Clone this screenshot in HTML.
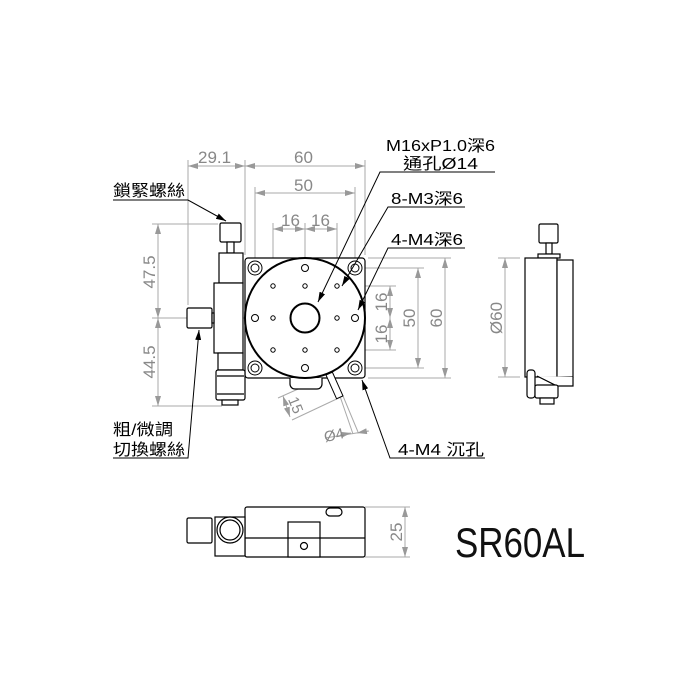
<!DOCTYPE html>
<html><head><meta charset="utf-8"><style>
body{margin:0;background:#fff}
svg{display:block}
.t{font-family:"Liberation Sans","Noto Sans CJK TC",sans-serif;fill:#000}
.g{font-family:"Liberation Sans",sans-serif;fill:#888;font-size:17px}
</style></head><body>
<svg width="700" height="700" viewBox="0 0 700 700" xmlns="http://www.w3.org/2000/svg">
<defs>
<marker id="a" viewBox="0 0 10 6" refX="10" refY="3" markerWidth="10" markerHeight="6" orient="auto-start-reverse" markerUnits="userSpaceOnUse"><path d="M0,0L10,3L0,6z" fill="#999"/></marker>
<marker id="b" viewBox="0 0 10 6" refX="10" refY="3" markerWidth="10" markerHeight="6" orient="auto" markerUnits="userSpaceOnUse"><path d="M0,0L10,3L0,6z" fill="#000"/></marker>
</defs>
<g stroke="#aaa" stroke-width="1" fill="none">
<line x1="188" y1="160" x2="188" y2="305"/>
<line x1="245" y1="160" x2="245" y2="255"/>
<line x1="365" y1="160" x2="365" y2="255"/>
<line x1="255" y1="187" x2="255" y2="262"/>
<line x1="355" y1="187" x2="355" y2="262"/>
<line x1="273" y1="223" x2="273" y2="283"/>
<line x1="305" y1="223" x2="305" y2="283"/>
<line x1="337" y1="223" x2="337" y2="283"/>
<line x1="152" y1="224" x2="218" y2="224"/>
<line x1="152" y1="318" x2="320" y2="318"/>
<line x1="152" y1="406" x2="222" y2="406"/>
<line x1="340" y1="286" x2="396" y2="286"/>
<line x1="340" y1="350" x2="396" y2="350"/>
<line x1="360" y1="268" x2="424" y2="268"/>
<line x1="360" y1="368" x2="424" y2="368"/>
<line x1="368" y1="258" x2="451" y2="258"/>
<line x1="368" y1="378" x2="451" y2="378"/>
<line x1="520" y1="258" x2="498" y2="258"/>
<line x1="520" y1="377" x2="498" y2="377"/>
<line x1="365" y1="507" x2="410" y2="507"/>
<line x1="365" y1="557" x2="410" y2="557"/>
<line x1="188" y1="166" x2="245" y2="166" marker-start="url(#a)" marker-end="url(#a)"/>
<line x1="245" y1="166" x2="365" y2="166" marker-start="url(#a)" marker-end="url(#a)"/>
<line x1="255" y1="193" x2="355" y2="193" marker-start="url(#a)" marker-end="url(#a)"/>
<line x1="273" y1="229" x2="305" y2="229" marker-start="url(#a)" marker-end="url(#a)"/>
<line x1="305" y1="229" x2="337" y2="229" marker-start="url(#a)" marker-end="url(#a)"/>
<line x1="158" y1="224" x2="158" y2="318" marker-start="url(#a)" marker-end="url(#a)"/>
<line x1="158" y1="318" x2="158" y2="406" marker-start="url(#a)" marker-end="url(#a)"/>
<line x1="390" y1="286" x2="390" y2="318" marker-start="url(#a)" marker-end="url(#a)"/>
<line x1="390" y1="318" x2="390" y2="350" marker-start="url(#a)" marker-end="url(#a)"/>
<line x1="418" y1="268" x2="418" y2="368" marker-start="url(#a)" marker-end="url(#a)"/>
<line x1="445" y1="258" x2="445" y2="378" marker-start="url(#a)" marker-end="url(#a)"/>
<line x1="505" y1="258" x2="505" y2="377" marker-start="url(#a)" marker-end="url(#a)"/>
<line x1="405" y1="507" x2="405" y2="557" marker-start="url(#a)" marker-end="url(#a)"/>
<line x1="325" y1="377" x2="278" y2="398"/>
<line x1="343" y1="396" x2="292" y2="420"/>
<line x1="283" y1="396" x2="290" y2="417" marker-start="url(#a)" marker-end="url(#a)"/>
<line x1="343" y1="396" x2="358" y2="432"/>
<line x1="333" y1="376" x2="353" y2="434"/>
<line x1="325" y1="438" x2="369" y2="431"/>
<line x1="340" y1="435" x2="351" y2="433" marker-end="url(#a)"/>
<line x1="368" y1="431" x2="357" y2="433" marker-end="url(#a)"/>
</g>
<g class="g">
<text x="198" y="163">29.1</text>
<text x="294" y="163">60</text>
<text x="294" y="191">50</text>
<text x="281" y="226">16</text>
<text x="311" y="226">16</text>
<text transform="translate(155,272) rotate(-90)" text-anchor="middle">47.5</text>
<text transform="translate(155,362) rotate(-90)" text-anchor="middle">44.5</text>
<text transform="translate(387,302) rotate(-90)" text-anchor="middle">16</text>
<text transform="translate(387,334) rotate(-90)" text-anchor="middle">16</text>
<text transform="translate(415,318) rotate(-90)" text-anchor="middle">50</text>
<text transform="translate(442,318) rotate(-90)" text-anchor="middle">60</text>
<text transform="translate(502,318) rotate(-90)" text-anchor="middle">Ø60</text>
<text transform="translate(402,532) rotate(-90)" text-anchor="middle">25</text>
<text transform="translate(291,407) rotate(68)" text-anchor="middle" font-size="15">15</text>
<text transform="translate(335,440) rotate(-12)" text-anchor="middle" font-size="15">Ø4</text>
</g>
<g stroke="#000" fill="#fff" stroke-width="1.2">
<rect x="245" y="258" width="120" height="120" rx="3"/>
<path d="M290,378 v6 a5,5 0 0 0 5,5 h22 a5,5 0 0 0 5,-5 v-6" />
<circle cx="305" cy="318" r="60" stroke-width="2"/>
<circle cx="305" cy="318" r="14.5" stroke-width="2"/>
<g stroke-width="1"><circle cx="255" cy="268" r="7"/><circle cx="255" cy="268" r="4"/>
<circle cx="355" cy="268" r="7"/><circle cx="355" cy="268" r="4"/>
<circle cx="255" cy="368" r="7"/><circle cx="255" cy="368" r="4"/>
<circle cx="355" cy="368" r="7"/><circle cx="355" cy="368" r="4"/>
<circle cx="305" cy="268" r="3.5"/><circle cx="305" cy="368" r="3.5"/>
<circle cx="255" cy="318" r="3.5"/><circle cx="355" cy="318" r="3.5"/>
<circle cx="273" cy="286" r="2.2"/><circle cx="305" cy="286" r="2.2"/><circle cx="337" cy="286" r="2.2"/>
<circle cx="273" cy="318" r="2.2"/><circle cx="337" cy="318" r="2.2"/>
<circle cx="273" cy="350" r="2.2"/><circle cx="305" cy="350" r="2.2"/><circle cx="337" cy="350" r="2.2"/>
<rect x="0" y="0" width="7" height="26" transform="translate(326,375) rotate(-24)"/>
</g>
<rect x="220" y="223" width="21" height="19" rx="1.5"/>
<rect x="227" y="242" width="7" height="11"/>
<rect x="219" y="253" width="24" height="30"/>
<rect x="214" y="283" width="29" height="70"/>
<rect x="218" y="353" width="25" height="17"/>
<rect x="216" y="370" width="29" height="30" rx="2"/>
<line x1="217" y1="376" x2="244" y2="376"/><line x1="217" y1="394" x2="244" y2="394"/>
<rect x="222" y="400" width="16" height="5"/>
<rect x="187" y="308" width="25" height="20" rx="1.5"/>
<rect x="212" y="313" width="2" height="10"/>
<rect x="539" y="224" width="19" height="19" rx="1.5"/>
<rect x="546" y="243" width="6" height="11"/>
<rect x="538" y="254" width="22" height="4"/>
<rect x="525" y="258" width="32" height="119"/>
<rect x="557" y="260" width="16" height="117"/>
<path d="M537,376 l20,10 h16 v-9"/>
<rect x="527" y="370" width="8" height="28" rx="3"/>
<rect x="535" y="385" width="23" height="13" rx="2"/>
<rect x="540" y="398" width="14" height="6"/>
<rect x="245" y="507" width="120" height="50" rx="2"/>
<line x1="245" y1="538" x2="365" y2="538"/>
<rect x="288" y="522" width="32" height="35"/>
<line x1="288" y1="538" x2="320" y2="538"/>
<circle cx="304" cy="546" r="3.5"/>
<rect x="326" y="508" width="16" height="8" rx="4"/>
<rect x="215" y="517" width="30" height="39"/>
<circle cx="230" cy="530" r="13"/><circle cx="230" cy="530" r="10"/>
<rect x="187" y="518" width="25" height="25" rx="1.5"/>
</g>
<g stroke="#000" stroke-width="1" fill="none">
<polyline points="113,200 188,200 226,221" marker-end="url(#b)"/>
<polyline points="113,458 188,458 199,330" marker-end="url(#b)"/>
<polyline points="495,172 380,172 318,302" marker-end="url(#b)"/>
<polyline points="465,207 388,207 342,286" marker-end="url(#b)"/>
<polyline points="465,248 388,248 358,310" marker-end="url(#b)"/>
<polyline points="485,458 390,458 362,380" marker-end="url(#b)"/>
</g>
<g class="t" font-size="16">
<text x="113" y="196" textLength="72" lengthAdjust="spacingAndGlyphs">鎖緊螺絲</text>
<text x="113" y="435" textLength="60" lengthAdjust="spacingAndGlyphs">粗/微調</text>
<text x="113" y="455" textLength="72" lengthAdjust="spacingAndGlyphs">切換螺絲</text>
<text x="386" y="151" textLength="109" lengthAdjust="spacingAndGlyphs">M16xP1.0深6</text>
<text x="403" y="169" textLength="75" lengthAdjust="spacingAndGlyphs">通孔Ø14</text>
<text x="391" y="204" textLength="72" lengthAdjust="spacingAndGlyphs">8-M3深6</text>
<text x="391" y="245" textLength="72" lengthAdjust="spacingAndGlyphs">4-M4深6</text>
<text x="398" y="455" textLength="86" lengthAdjust="spacingAndGlyphs">4-M4 沉孔</text>
</g>
<text x="455" y="557" font-family="Liberation Sans,sans-serif" font-size="42" fill="#111" textLength="130" lengthAdjust="spacingAndGlyphs">SR60AL</text>
</svg>
</body></html>
